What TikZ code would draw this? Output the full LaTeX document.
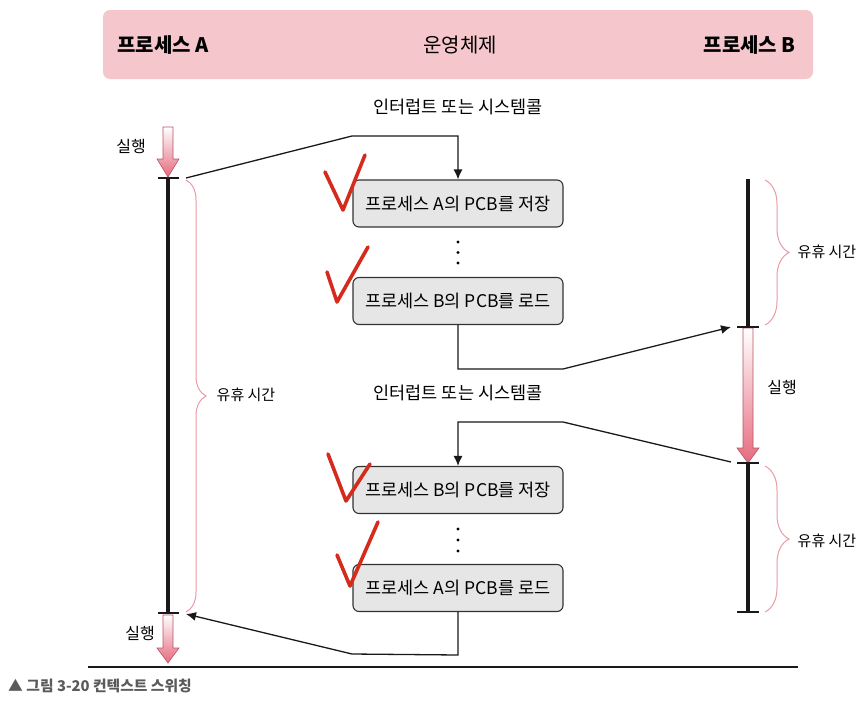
\documentclass[tikz,border=0pt]{standalone}
\usepackage{fontspec}
\setmainfont{Noto Sans CJK KR}
\usetikzlibrary{arrows.meta,decorations.pathreplacing}
\definecolor{hdrpink}{HTML}{F5C6CB}
\definecolor{boxgray}{HTML}{E6E6E6}
\definecolor{arrpink}{HTML}{E66A7E}
\definecolor{bracepink}{HTML}{E89AA6}
\definecolor{checkred}{HTML}{D42B1C}
\definecolor{capgray}{HTML}{5A5A5A}
\tikzset{
  pcbbox/.style={draw=black!80, fill=boxgray, rounded corners=6pt, line width=1.1pt,
    minimum width=210pt, minimum height=47pt, inner sep=0pt, font=\fontsize{17.5}{20}\selectfont},
  hdrtext/.style={font=\fontsize{20}{22}\selectfont\bfseries, inner sep=0pt},
  lbl/.style={font=\fontsize{15}{17}\selectfont, inner sep=0pt},
  runlbl/.style={font=\fontsize{16}{18}\selectfont, inner sep=0pt},
  intlbl/.style={font=\fontsize{17.5}{20}\selectfont, inner sep=0pt},
  conn/.style={line width=1.3pt, black!90},
  connarrow/.style={conn, -{Latex[length=10pt,width=9pt]}},
  timeline/.style={line width=3.5pt, black!90},
  tick/.style={line width=1.8pt, black!90},
  pbrace/.style={bracepink, line width=1pt, decorate},
  checkmark/.style={checkred, line width=3.6pt, line join=round, line cap=round},
  dotc/.style={fill=black, circle, inner sep=0pt, minimum size=3.2pt},
}
\newcommand{\gradarrow}[4]{%
  \shade[top color=white, bottom color=arrpink, draw=arrpink!80!black, line width=0.6pt]
    (#1-5,#2) -- (#1+5,#2) -- (#1+5,#3) -- (#1+11,#3) -- (#1,#4) -- (#1-11,#3) -- (#1-5,#3) -- cycle;}
\begin{document}
\begin{tikzpicture}[x=1pt,y=-1pt]
\useasboundingbox (0,0) rectangle (864,704);
% header
\node[fill=hdrpink, rounded corners=7pt, minimum width=710pt, minimum height=69pt, inner sep=0pt] (hdr) at (458,44.5) {};
\node[hdrtext, anchor=west] (pA) at (117,45) {프로세스 A};
\node[hdrtext, font=\fontsize{20}{22}\selectfont] (os) at (460,45) {운영체제};
\node[hdrtext, anchor=east] (pB) at (796,45) {프로세스 B};
% interrupt labels
\node[intlbl] (int1) at (458,107) {인터럽트 또는 시스템콜};
\node[intlbl] (int2) at (458,393) {인터럽트 또는 시스템콜};
% boxes
\node[pcbbox] (b1) at (458,203.5) {프로세스 A의 PCB를 저장};
\node[pcbbox] (b2) at (458,301) {프로세스 B의 PCB를 로드};
\node[pcbbox] (b3) at (458,490) {프로세스 B의 PCB를 저장};
\node[pcbbox] (b4) at (458,588) {프로세스 A의 PCB를 로드};
% dots
\node[dotc] (d1) at (458,242) {};
\node[dotc] (d2) at (458,252.5) {};
\node[dotc] (d3) at (458,263) {};
\node[dotc] (d4) at (458,529) {};
\node[dotc] (d5) at (458,540) {};
\node[dotc] (d6) at (458,551) {};
% left timeline
\coordinate (LAtop) at (168,178);
\coordinate (LAbot) at (168,613);
\draw[timeline] (LAtop) -- (LAbot);
\draw[tick] (158,178) -- (179,178);
\draw[tick] (158,613) -- (179,613);
\gradarrow{168}{127}{159}{177}
\gradarrow{168}{615}{648}{663}
\node[runlbl] (runA1) at (131,146) {실행};
\node[runlbl] (runA2) at (140,633) {실행};
\draw[pbrace, decoration={brace, amplitude=20pt}] (186,180) -- (186,612);
\node[lbl] (idleA) at (246,395) {유휴 시간};
% right timeline
\coordinate (RBtop) at (748,179);
\coordinate (RB1) at (748,327);
\coordinate (RB2) at (748,463);
\coordinate (RBbot) at (748,612);
\draw[timeline] (RBtop) -- (RB1);
\draw[timeline] (RB2) -- (RBbot);
\gradarrow{748}{328}{448}{463}
\draw[tick] (737,327) -- (759,327);
\draw[tick] (737,463) -- (759,463);
\draw[tick] (737,612) -- (759,612);
\node[runlbl] (runB) at (782,387) {실행};
\draw[pbrace, decoration={brace, amplitude=24pt}] (765,180) -- (765,325);
\node[lbl] (idleB1) at (827,252) {유휴 시간};
\draw[pbrace, decoration={brace, amplitude=24pt}] (765,466) -- (765,612);
\node[lbl] (idleB2) at (827,541) {유휴 시간};
% connectors
\coordinate (c1s) at (186,178);
\coordinate (c1m) at (352,136);
\draw[connarrow] (c1s) -- (c1m) -- (458,136) -- (b1.north);
\coordinate (c2e) at (731,327);
\draw[connarrow] (b2.south) -- (458,369) -- (563,369) -- (c2e);
\coordinate (c3s) at (731,462);
\draw[connarrow] (c3s) -- (563,422) -- (458,422) -- (b3.north);
\coordinate (c4e) at (186,614);
\draw[connarrow] (b4.south) -- (458,655) -- (352,654) -- (c4e);
% checks
\draw[checkmark] (325,172) -- (343,210) -- (365,155);
\draw[checkmark] (327,272) -- (337,302) -- (368,247);
\draw[checkmark] (328,454) -- (346,501) -- (370,464);
\draw[checkmark] (337,555) -- (350,586) -- (378,522);
% baseline and caption
\draw[line width=1.4pt, black!90] (88,667) -- (798,667);
\node[anchor=west, inner sep=0pt, text=capgray, font=\fontsize{14.8}{17}\selectfont\bfseries] (cap) at (8,686) {▲ 그림 3-20 컨텍스트 스위칭};
\end{tikzpicture}
\end{document}
